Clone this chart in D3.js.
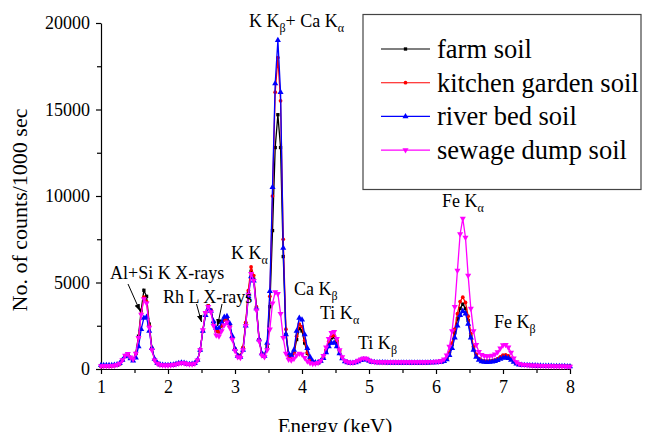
<!DOCTYPE html>
<html><head><meta charset="utf-8">
<script src="https://cdn.jsdelivr.net/npm/d3@7"></script>
</head><body style="margin:0;background:#fff"><svg id="c" width="646" height="432" style="display:block" font-family="Liberation Serif, Times New Roman, serif"></svg>
<script>
// Energy grid: 1.00 .. 8.00 keV in 0.04 keV steps (176 channels)
const energyStart = 1.0, energyStep = 0.04;
const seriesNames = ["farm soil", "kitchen garden soil", "river bed soil", "sewage dump soil"];
const farmSoil = [
170,170,175,180,185,200,230,300,500,750,
850,650,540,900,1900,3400,4550,4200,2600,1200,
550,330,250,220,210,210,220,240,280,320,
350,340,300,270,280,320,500,1100,2200,3200,
3650,3400,2700,2200,2150,2500,2850,2900,2500,1800,
1150,800,750,1200,2600,4400,5650,5200,3500,1700,
900,750,1300,3600,8000,12800,14700,12800,6500,2000,
750,650,900,1700,2350,2200,1500,900,550,400,
350,360,450,650,1050,1500,1800,1850,1550,1000,
650,450,380,360,360,400,470,540,580,560,
480,420,390,380,380,375,375,370,370,370,
370,365,365,365,365,360,360,360,360,365,
365,370,370,375,380,390,400,420,480,600,
900,1400,2100,2900,3500,3750,3500,2800,1900,1200,
800,580,480,440,430,440,460,500,560,650,
740,770,720,600,450,330,270,240,230,220,
210,200,195,190,185,180,175,170,170,165,
160,160,155,155,150,150];
const kitchenGardenSoil = [
170,170,175,180,185,200,230,300,500,750,
850,650,540,880,1800,3200,4150,3900,2500,1150,
530,330,250,220,210,210,220,240,280,320,
350,340,300,270,280,320,500,1100,2250,3250,
3650,3400,2700,2200,2150,2500,2850,2900,2500,1800,
1150,800,750,1250,2700,4550,5900,5400,3600,1700,
880,720,1400,4200,10000,16000,18000,15500,7500,2300,
700,600,950,1900,2600,2450,1650,950,550,400,
350,360,460,680,1100,1600,1900,1950,1650,1050,
660,450,380,360,360,400,470,540,580,560,
480,420,390,380,380,375,375,370,370,370,
370,365,365,365,365,360,360,360,360,365,
365,370,370,375,380,390,400,420,490,620,
950,1500,2300,3200,3900,4150,3850,3050,2050,1300,
850,600,500,460,450,460,480,520,590,700,
800,820,760,620,460,330,270,240,230,220,
210,200,195,190,185,180,175,170,170,165,
160,160,155,155,150,150];
const riverBedSoil = [
210,210,210,215,220,230,260,330,520,720,
780,600,480,650,1300,2300,2950,3000,2200,1200,
580,350,260,230,220,220,230,250,290,330,
360,350,310,280,290,330,520,1100,2200,3100,
3500,3350,2750,2350,2350,2700,3000,3050,2650,1900,
1150,750,700,1100,2500,4200,5350,5100,3500,1700,
900,750,1500,4500,10500,16500,19000,16000,7000,2000,
900,800,1100,2200,2950,2850,2000,1200,700,450,
380,380,460,620,950,1300,1500,1520,1300,900,
600,430,370,350,350,380,440,500,550,540,
470,410,385,375,375,370,370,365,365,365,
365,360,360,360,360,355,355,355,355,360,
360,365,365,370,375,380,390,405,450,550,
800,1200,1800,2500,3100,3350,3200,2600,1800,1100,
700,520,430,400,390,400,420,450,500,580,
640,660,620,520,400,300,250,230,220,210,
205,200,195,190,185,180,175,170,170,165,
160,160,155,155,150,150];
const sewageDumpSoil = [
170,170,175,180,185,200,240,320,520,780,
880,680,560,900,1800,3150,4050,3800,2400,1100,
500,320,250,220,210,210,220,240,280,320,
350,340,300,270,280,320,500,1100,2250,3250,
3600,3300,2500,1950,1900,2200,2550,2700,2400,1700,
1050,700,650,1100,2500,4300,5500,5100,3400,1600,
800,700,1100,2300,3800,4450,4350,3200,1800,900,
550,500,600,800,900,850,650,450,350,310,
320,360,480,760,1250,1750,2100,2150,1750,1100,
700,480,400,380,380,420,490,570,620,600,
510,450,420,410,405,400,400,400,400,400,
400,400,400,400,400,400,400,400,400,405,
405,410,415,420,425,430,440,470,560,800,
1300,2200,3600,5700,7800,8700,7600,5400,3500,2200,
1400,1000,820,760,740,750,780,850,980,1200,
1380,1400,1250,950,620,400,300,260,240,225,
215,205,200,195,190,185,180,175,170,165,
160,160,155,155,150,150];
const xTicks = [1,2,3,4,5,6,7,8];
const xMinorTicks = [1.5,2.5,3.5,4.5,5.5,6.5,7.5];
const yTicks = [0,5000,10000,15000,20000];
const yMinorTicks = [2500,7500,12500,17500];

const FONT = "'Liberation Serif', 'Times New Roman', Tinos, 'DejaVu Serif', serif";
const colors = ["#000000","#ff0000","#0000ff","#ff00ff"];
const symbols = [d3.symbolSquare, d3.symbolCircle, d3.symbolTriangle, d3.symbolTriangle];
const symSizes = [11, 11, 16, 16];
const rotations = [0,0,0,180];
const allSeries = [farmSoil, kitchenGardenSoil, riverBedSoil, sewageDumpSoil];

const svg = d3.select("#c");
const x = d3.scaleLinear().domain([1,8]).range([101,570]);
const y = d3.scaleLinear().domain([0,20000]).range([369,23]);

// axes
const gx = svg.append("g").attr("transform","translate(0,369)");
gx.call(d3.axisBottom(x).tickValues(xTicks).tickFormat(d3.format("d")).tickSize(5).tickSizeOuter(0).tickPadding(6));
gx.append("g").call(d3.axisBottom(x).tickValues(xMinorTicks).tickFormat("").tickSize(4).tickSizeOuter(0)).select(".domain").remove();
const gy = svg.append("g").attr("transform","translate(101,0)");
gy.call(d3.axisLeft(y).tickValues(yTicks).tickFormat(d3.format("d")).tickSize(5).tickSizeOuter(0).tickPadding(6));
gy.append("g").call(d3.axisLeft(y).tickValues(yMinorTicks).tickFormat("").tickSize(4).tickSizeOuter(0)).select(".domain").remove();
svg.selectAll(".tick text").attr("font-size",18).attr("fill","#000");
svg.selectAll(".domain, .tick line").attr("stroke","#000").attr("stroke-width",1.2);

// series
const line = d3.line().x((d,i)=>x(energyStart+i*energyStep)).y(d=>y(d));
allSeries.forEach((vals,k)=>{
  const g = svg.append("g");
  g.append("path").datum(vals).attr("d",line).attr("fill","none").attr("stroke",colors[k]).attr("stroke-width",1.3);
  g.selectAll("path.m").data(vals).join("path").attr("class","m")
    .attr("d", d3.symbol().type(symbols[k]).size(symSizes[k]))
    .attr("fill",colors[k])
    .attr("transform",(d,i)=>`translate(${x(energyStart+i*energyStep)},${y(d)}) rotate(${rotations[k]})`);
});

// axis titles
svg.append("text").attr("x",335).attr("y",433).attr("text-anchor","middle").attr("font-size",21).text("Energy (keV)");
svg.append("text").attr("transform","translate(27,210) rotate(-90)").attr("text-anchor","middle").attr("font-size",22).text("No. of counts/1000 sec");

// annotations
function label(px, py, parts){
  const t = svg.append("text").attr("x",px).attr("y",py).attr("font-size",18);
  let shift = 0;
  parts.forEach(p=>{
    if(typeof p === "object"){ t.append("tspan").attr("font-size",12).attr("dy",5).text(p.s); shift = -5; }
    else { t.append("tspan").attr("dy",shift).text(p); shift = 0; }
  });
}
label(249,27,["K K",{s:"β"},"+ Ca K",{s:"α"}]);
label(231,259,["K K",{s:"α"}]);
label(110,279,["Al+Si K X-rays"]);
label(163,303,["Rh L X-rays"]);
label(294,295,["Ca K",{s:"β"}]);
label(320,319,["Ti K",{s:"α"}]);
label(358,349,["Ti K",{s:"β"}]);
label(442,207,["Fe K",{s:"α"}]);
label(494,328,["Fe K",{s:"β"}]);

// arrows
const defs = svg.append("defs");
defs.append("marker").attr("id","ah").attr("viewBox","0 0 10 10").attr("refX",10).attr("refY",5)
  .attr("markerWidth",7).attr("markerHeight",7).attr("orient","auto")
  .append("path").attr("d","M0,1L10,5L0,9z").attr("fill","#000");
[[128,284,140,311],[196.5,304,201.5,322],[222,304,217.5,326]].forEach(a=>{
  svg.append("line").attr("x1",a[0]).attr("y1",a[1]).attr("x2",a[2]).attr("y2",a[3])
    .attr("stroke","#000").attr("stroke-width",1).attr("marker-end","url(#ah)");
});

// legend
const lg = svg.append("g");
lg.append("rect").attr("x",363).attr("y",14.5).attr("width",278).attr("height",175).attr("fill","#fff").attr("stroke","#444").attr("stroke-width",1.2);
seriesNames.forEach((n,k)=>{
  const yy = 49 + k*33.7;
  lg.append("line").attr("x1",381).attr("x2",430).attr("y1",yy).attr("y2",yy).attr("stroke",colors[k]).attr("stroke-width",1.1);
  lg.append("path").attr("d",d3.symbol().type(symbols[k]).size(symSizes[k])).attr("fill",colors[k])
    .attr("transform",`translate(405.5,${yy}) rotate(${rotations[k]})`);
  lg.append("text").attr("x",437).attr("y",yy+9).attr("font-size",26.5).text(n);
});

// force serif font on every text element
svg.selectAll("g").attr("font-family",null);
svg.selectAll("text").style("font-family",FONT).attr("fill","#000");
</script></body></html>
